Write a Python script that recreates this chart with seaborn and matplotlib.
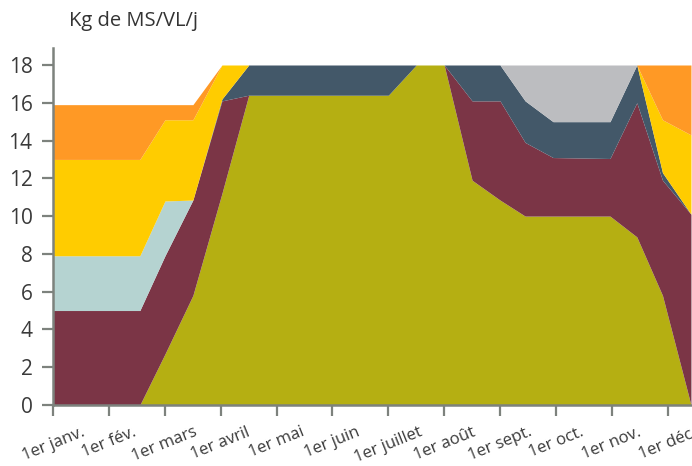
import matplotlib
matplotlib.use('Agg')
import matplotlib.pyplot as plt
import seaborn as sns
import pandas as pd

# x in months from 1er janv. (0) ; one point per vertex of the stacked areas
mois = [0, 1.55, 2.0, 2.5, 3.02, 3.5, 6.0, 6.5, 7.0, 7.5, 8.0, 8.45, 8.95, 9.97, 10.45, 10.91, 11.42]

paturage = [0, 0, 2.7, 5.8, 11.2, 16.4, 16.4, 18, 18, 11.9, 10.85, 10, 10, 10, 8.9, 5.8, 0]
mais = [5, 5, 5.2, 5.05, 4.9, 0, 0, 0, 0, 4.2, 5.25, 3.9, 3.1, 3.05, 7.1, 6.1, 10.1]
ardoise = [0, 0, 0, 0, 0.1, 1.6, 1.6, 0, 0, 1.9, 1.9, 2.2, 1.9, 1.95, 2.0, 0.4, 0]
bleu = [2.9, 2.9, 2.9, 0, 0, 0, 0, 0, 0, 0, 0, 0, 0, 0, 0, 0, 0]
gris = [0, 0, 0, 0, 0, 0, 0, 0, 0, 0, 0, 1.9, 3.0, 3.0, 0, 0, 0]
jaune = [5.1, 5.1, 4.3, 4.25, 1.8, 0, 0, 0, 0, 0, 0, 0, 0, 0, 0, 2.8, 4.2]
orange = [2.9, 2.9, 0.8, 0.8, 0, 0, 0, 0, 0, 0, 0, 0, 0, 0, 0, 2.9, 3.7]

mois_labels = ['1er janv.', '1er fév.', '1er mars', '1er avril', '1er mai', '1er juin',
               '1er juillet', '1er août', '1er sept.', '1er oct.', '1er nov.', '1er déc.']

couleurs = ['#B5AF12', '#7B3546', '#435869', '#B5D3D1', '#BCBDC0', '#FFCC00', '#FF9925']


def main():
    df = pd.DataFrame({
        'mois': mois,
        'paturage': paturage,
        'mais': mais,
        'ardoise': ardoise,
        'bleu': bleu,
        'gris': gris,
        'jaune': jaune,
        'orange': orange,
    })

    sns.set_style('ticks')
    plt.rcParams['font.family'] = ['Open Sans', 'DejaVu Sans']

    fig = plt.figure(figsize=(6.92, 4.66), dpi=100)
    ax = fig.add_axes([0.077, 0.131, 0.9215, 0.766])

    layers = ['paturage', 'mais', 'ardoise', 'bleu', 'gris', 'jaune', 'orange']
    ax.stackplot(df['mois'], *[df[c] for c in layers], colors=couleurs, linewidth=0)

    ax.set_xlim(0, 11.42)
    ax.set_ylim(0, 18.9)
    ax.set_yticks(range(0, 19, 2))
    ax.set_xticks(range(12))
    ax.set_xticklabels(mois_labels, rotation=22, ha='center')

    sns.despine(ax=ax)
    spine_col = '#7D827D'
    for side in ['left', 'bottom']:
        ax.spines[side].set_color(spine_col)
        ax.spines[side].set_linewidth(1.8)
    ax.tick_params(axis='y', length=8, width=1.6, color=spine_col, labelsize=15,
                   labelcolor='#3A3A3A', pad=7)
    ax.tick_params(axis='x', length=8, width=1.6, color=spine_col, labelsize=12,
                   labelcolor='#3A3A3A', pad=6)

    fig.text(0.1, 1 - 11 / 466, 'Kg de MS/VL/j', fontsize=14.5, color='#333333',
             ha='left', va='top')

    fig.savefig('out.png', dpi=100)


if __name__ == '__main__':
    main()
